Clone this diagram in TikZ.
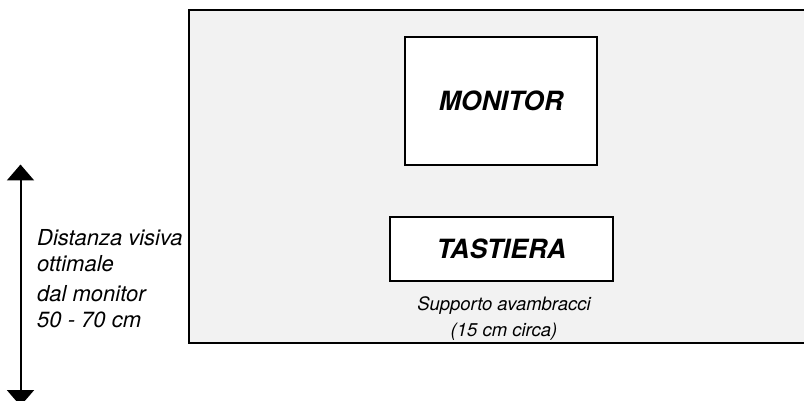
\documentclass[tikz,border=0pt]{standalone}
\usepackage{fontspec}
\setmainfont{TeX Gyre Heros}
\usetikzlibrary{arrows.meta}
\tikzset{
  box/.style={draw,line width=2pt,fill=white,inner sep=0pt},
  label/.style={font=\fontsize{22}{26}\selectfont\itshape,anchor=base west,inner sep=0pt},
  note/.style={font=\fontsize{18.5}{22}\selectfont\itshape,anchor=base,inner sep=0pt},
  title/.style={font=\fontsize{26.5}{30}\selectfont\bfseries\itshape}
}
\begin{document}
\begin{tikzpicture}[x=1pt,y=-1pt]
\useasboundingbox (0,0) rectangle (804,401);
\draw[line width=2.2pt,fill=black!5] (189,10) rectangle (830,343);
\node[box,minimum width=192pt,minimum height=128pt,title] (monitor) at (501,101) {MONITOR};
\node[box,minimum width=223pt,minimum height=64pt,title] (tastiera) at (501.5,249) {TASTIERA};
\node[note] (supp1) at (504,310) {Supporto avambracci};
\node[note] (supp2) at (504,336) {(15 cm circa)};
\node[label] (dist1) at (37,245) {Distanza visiva};
\node[label] (dist2) at (37,272) {ottimale};
\node[label] (dist3) at (37,301) {dal monitor};
\node[label] (dist4) at (37,327) {50 - 70 cm};
\coordinate (top) at (20.5,164.5);
\coordinate (bottom) at (20.5,406);
\draw[line width=2pt,{Triangle[width=27pt,length=16pt]}-{Triangle[width=27pt,length=16pt]}] (top) -- (bottom);
\end{tikzpicture}
\end{document}
